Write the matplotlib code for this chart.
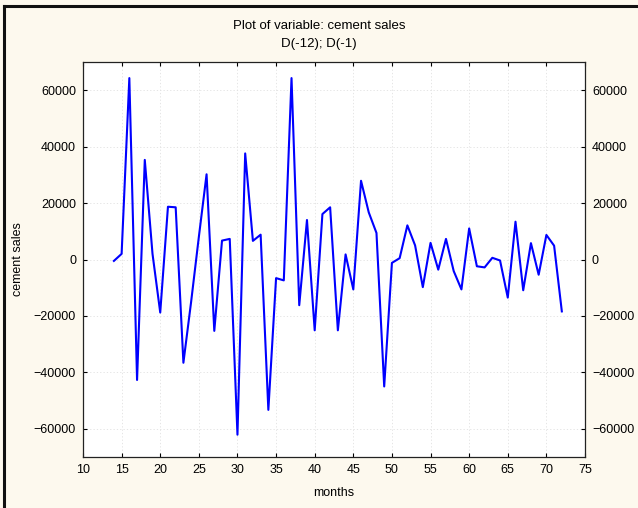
import matplotlib
matplotlib.use("Agg")
import matplotlib.pyplot as plt
from matplotlib.lines import Line2D

months = list(range(14, 73))
values = [
    -500, 2000, 64300, -42700, 35300, 2000, -18800, 18700, 18500, -36600,
    -15000, 8000, 30200, -25300, 6700, 7300, -62100, 37600, 6600, 8800,
    -53300, -6600, -7400, 64300, -16200, 14000, -25100, 16100, 18500, -25100,
    1800, -10600, 27900, 16700, 9400, -45000, -1200, 470, 12100, 5000,
    -9800, 5900, -3600, 7300, -4100, -10600, 11000, -2400, -2800, 600,
    -350, -13500, 13400, -10900, 5800, -5400, 8700, 4900, -18400,
]
xticks = list(range(10, 80, 5))
yticks = [-60000, -40000, -20000, 0, 20000, 40000, 60000]

plt.rcParams["font.family"] = ["Liberation Sans", "DejaVu Sans"]
bg = "#fdf9ee"

fig = plt.figure(figsize=(6.38, 5.08), dpi=100, facecolor=bg)
ax = fig.add_axes([83 / 638, 51 / 508, 502 / 638, 395 / 508])
ax.set_facecolor("white")

ax.plot(months, values, color="#0000ff", linewidth=1.5, zorder=3)

ax.set_xlim(10, 75)
ax.set_ylim(-70000, 70000)
ax.set_xticks(xticks)
ax.set_yticks(yticks)
ax.grid(True, color="#e0e0e0", linestyle=(0, (1.5, 2.5)), linewidth=0.6)
ax.tick_params(direction="in", length=3, width=0.8, labelsize=9,
               top=True, right=True, labelright=True, pad=5, colors="black")
for spine in ax.spines.values():
    spine.set_linewidth(0.9)
    spine.set_color("#222222")

ax.set_xlabel("months", fontsize=9, labelpad=8)
ax.set_ylabel("cement sales", fontsize=9, labelpad=7)
fig.text(0.5, 1 - 26 / 508, "Plot of variable: cement sales",
         ha="center", va="center", fontsize=9.5)
fig.text(0.5, 1 - 44 / 508, "D(-12); D(-1)",
         ha="center", va="center", fontsize=9.5)

# рамка слева и сверху
fig.add_artist(Line2D([4 / 638, 4 / 638], [0, 1 - 6 / 508],
                      color="#111111", linewidth=2.2, transform=fig.transFigure))
fig.add_artist(Line2D([4 / 638, 1], [1 - 6 / 508, 1 - 6 / 508],
                      color="#111111", linewidth=2.2, transform=fig.transFigure))

fig.savefig("out.png", dpi=100, facecolor=bg)
plt.close(fig)
